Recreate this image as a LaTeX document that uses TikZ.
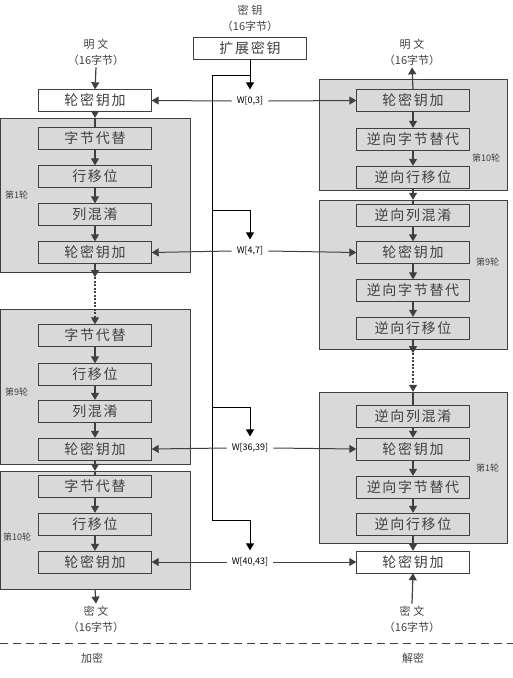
\documentclass[tikz,border=0pt]{standalone}
\usepackage{fontspec}
\setmainfont{Noto Sans CJK SC}
\newfontfamily\stagefont[LetterSpace=12]{Noto Sans CJK SC}
\usetikzlibrary{arrows.meta}

\definecolor{edgegray}{HTML}{404040}
\definecolor{roundgray}{HTML}{D9D9D9}

\tikzset{
  stage/.style={draw=edgegray, fill=roundgray, minimum width=113pt, minimum height=22pt,
    inner sep=0pt, text=edgegray, font=\stagefont\fontsize{14}{16}\selectfont},
  plainstage/.style={stage, fill=white},
  roundbox/.style={draw=edgegray, fill=roundgray, inner sep=0pt},
  caption/.style={align=center, inner sep=2pt, text=edgegray, font=\fontsize{11}{16}\selectfont},
  roundlabel/.style={anchor=west, inner sep=0pt, text=edgegray, font=\fontsize{9}{10}\selectfont},
  keylabel/.style={inner xsep=5pt, inner ysep=7pt, font=\fontsize{9}{10}\selectfont},
  tip/.style={-{Triangle[width=8pt,length=7pt]}},
  flow/.style={draw=edgegray, line width=1.2pt, tip},
  link/.style={draw=edgegray, line width=1.2pt},
  bus/.style={draw=black, line width=1pt},
  side/.style={draw=edgegray, line width=1pt, tip}
}

\begin{document}
\begin{tikzpicture}[x=1pt, y=-1pt]
    \useasboundingbox (0,0) rectangle (513,678);

    % draw rounds
    \foreach \n/\x/\y/\w/\h in {r1L/95/195/190/154, r9L/95/386.5/190/155, r10L/95/530/190/118,
                                r10R/413/134.5/188/111, r9R/413/274.5/188/149, r1R/413/467.5/188/151}
        \node [roundbox, minimum width=\w pt, minimum height=\h pt]
            (\n) at (\x, \y) {};

    \foreach \n/\x/\y/\t in {r1L/5/195/第1轮, r9L/5/392/第9轮, r10L/3/537/第10轮,
                             r10R/472/158/第10轮, r9R/476/262/第9轮, r1R/476/468/第1轮}
        \node [roundlabel] (t\n) at (\x, \y) {\t};

    % draw stages
    \foreach \n/\x/\y/\t in {sb1/95/138.5/字节代替, sr1/95/176.5/行移位, mc1/95/214.5/列混淆, ka1/95/252.5/轮密钥加,
                             sb9/95/335.5/字节代替, sr9/95/374.5/行移位, mc9/95/411/列混淆, ka9/95/449/轮密钥加,
                             sb10/95/486/字节代替, sr10/95/524/行移位, ka10/95/562/轮密钥加,
                             ika10/413/100.5/轮密钥加, isb10/413/139/逆向字节替代, isr10/413/177/逆向行移位,
                             imc9/413/215/逆向列混淆, ika9/413/252.5/轮密钥加, isb9/413/290.5/逆向字节替代, isr9/413/328/逆向行移位,
                             imc1/413/416/逆向列混淆, ika1/413/449/轮密钥加, isb1/413/487/逆向字节替代, isr1/413/524/逆向行移位}
        \node [stage] (\n) at (\x, \y) {\t};

    \foreach \n/\x/\y/\t in {ka0/95/100.5/轮密钥加, kx/250/48.5/扩展密钥, ika0/413/562/轮密钥加}
        \node [plainstage] (\n) at (\x, \y) {\t};

    % draw captions
    \node [caption] (plainL) at (96, 52) {明\hspace{3pt}文\\（16字节）};
    \node [caption] (plainR) at (412, 52) {明\hspace{3pt}文\\（16字节）};
    \node [caption] (keyin) at (250, 18.5) {密\hspace{3pt}钥\\（16字节）};
    \node [caption] (cipherL) at (96, 619) {密\hspace{3pt}文\\（16字节）};
    \node [caption] (cipherR) at (412, 619) {密\hspace{3pt}文\\（16字节）};
    \node [caption] (enc) at (92, 658) {加密};
    \node [caption] (dec) at (413, 658) {解密};

    \foreach \n/\y/\t in {w03/101/{W[0,3]}, w47/251/{W[4,7]}, w3639/448/{W[36,39]}, w4043/562/{W[40,43]}}
        \node [keylabel] (\n) at (250, \y) {\t};

    % draw edges
    \foreach \i/\j in {sb1/sr1, sr1/mc1, mc1/ka1, sb9/sr9, sr9/mc9, mc9/ka9, sb10/sr10, sr10/ka10,
                       isb10/isr10, imc9/ika9, ika9/isb9, isb9/isr9, imc1/ika1, ika1/isb1, isb1/isr1, isr1/ika0}
        \draw [flow] (\i.south) -- (\j.north);

    \foreach \i/\r/\j in {ka0/r1L/sb1, ka9/r10L/sb10, isr10/r9R/imc9}
    {
        \draw [flow] (\i.south) -- (\r.north);
        \draw [link] (\r.north) -- (\j.north);
    }

    \draw [flow] (ika10.south) -- (isb10.north);
    \draw [flow] (plainL.south) -- (ka0.north);
    \draw [flow] (ika10.north) -- (plainR.south);
    \draw [flow] (r10L.south) -- (cipherL.north);
    \draw [flow] (cipherR.north) -- (ika0.south);

    % dotted skips
    \draw [flow] (ka1.south) -- ([yshift=-5pt]r1L.south);
    \draw [flow, dash pattern=on 2pt off 1.5pt] ([yshift=-5pt]r1L.south) -- (sb9.north);
    \draw [flow] (isr9.south) -- ([yshift=-4pt]r9R.south);
    \draw [flow, dash pattern=on 2pt off 1.5pt] ([yshift=-4pt]r9R.south) -- (r1R.north);
    \draw [link] (r1R.north) -- (imc1.north);

    % key schedule
    \coordinate (b0) at (212, 75);
    \coordinate (b1) at (212, 210);
    \coordinate (b2) at (212, 407);
    \coordinate (b3) at (212, 520);
    \draw [bus] (kx.south) -- (kx.south |- b0) -- (b0) -- (b3);
    \draw [bus, tip] (kx.south) -- (w03.north);
    \foreach \b/\w in {b1/w47, b2/w3639, b3/w4043}
        \draw [bus, tip] (\b) -| (\w.north);

    \foreach \w/\l/\r in {w03/ka0/ika10, w47/ka1/ika9, w3639/ka9/ika1, w4043/ka10/ika0}
    {
        \draw [side] (\w.west) -- (\l.east);
        \draw [side] (\w.east) -- (\r.west);
    }

    % divider
    \coordinate (dl) at (0, 643);
    \coordinate (dr) at (513, 643);
    \draw [edgegray, line width=1pt, dash pattern=on 8pt off 5pt] (dl) -- (dr);

\end{tikzpicture}
\end{document}
